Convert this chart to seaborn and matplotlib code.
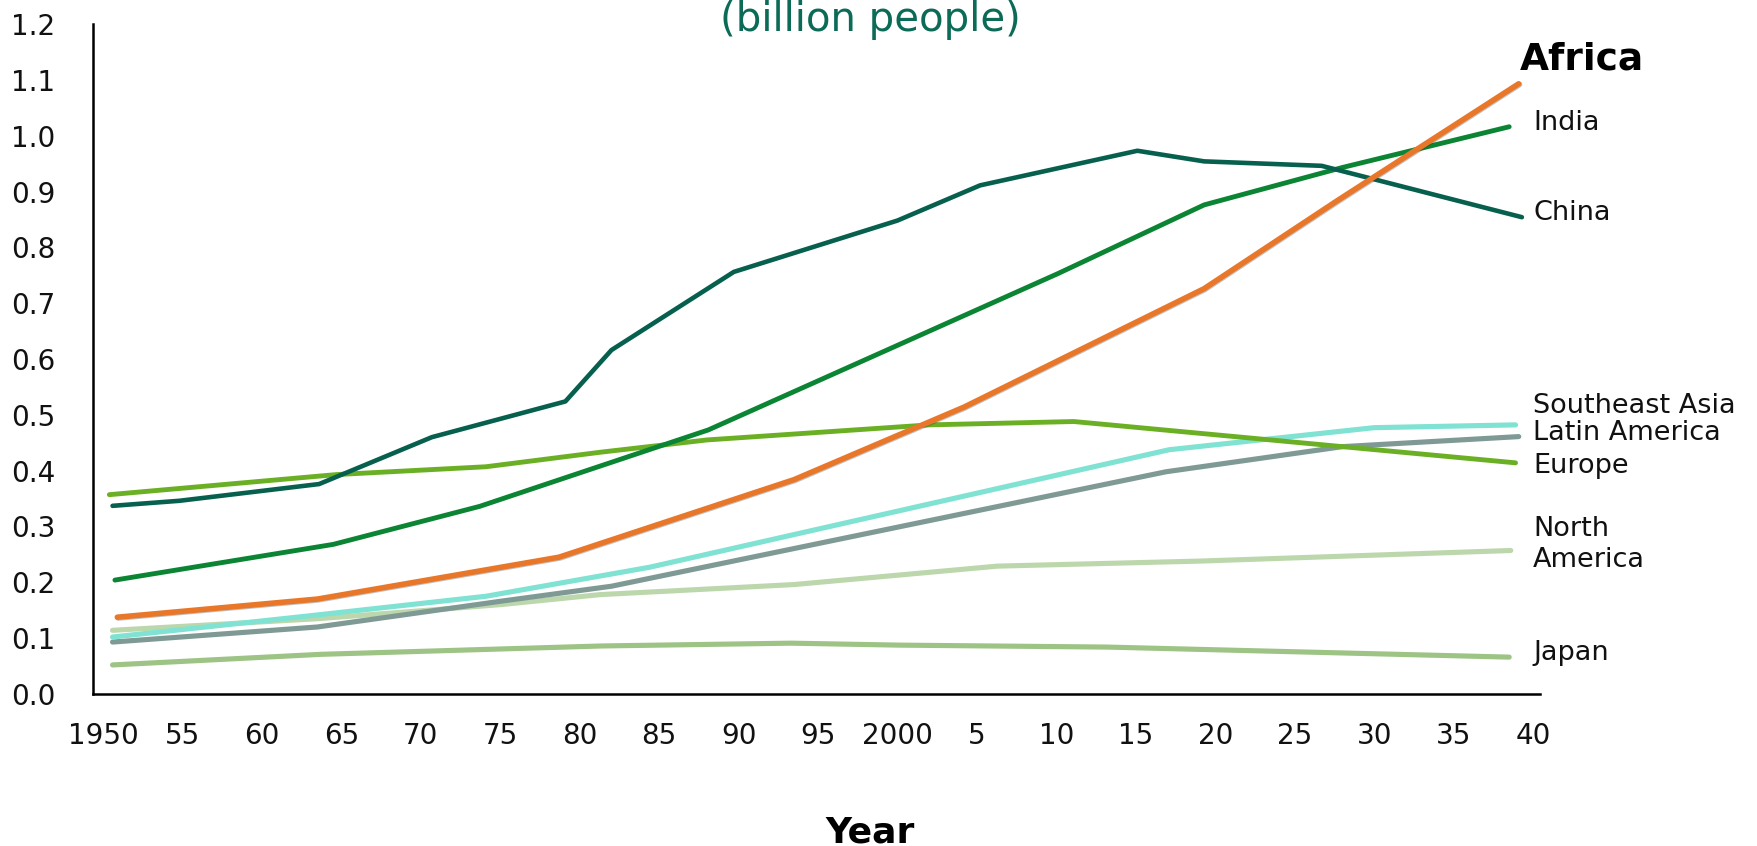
import matplotlib
matplotlib.use("Agg")
import matplotlib.pyplot as plt
import matplotlib.patheffects as pe
import seaborn as sns
import pandas as pd

sns.set_theme(style="white")
plt.rcParams['font.family'] = ['DejaVu Sans']

# Population by region (billion people)
japan_years = [1950.6, 1963.7, 1981.4, 1993.3, 2000.1, 2013.2, 2038.5]
japan_vals = [0.052, 0.071, 0.086, 0.091, 0.0875, 0.084, 0.066]

namerica_years = [1950.6, 1963.6, 1975.0, 1981.3, 1993.5, 2006.3, 2019.0, 2038.6]
namerica_vals = [0.114, 0.135, 0.160, 0.178, 0.196, 0.229, 0.238, 0.257]

latam_years = [1950.6, 1963.5, 1975.0, 1982.0, 2016.9, 2028.0, 2039.1]
latam_vals = [0.093, 0.120, 0.166, 0.193, 0.398, 0.443, 0.461]

seasia_years = [1950.6, 1963.0, 1974.1, 1984.4, 2017.1, 2030.0, 2038.9]
seasia_vals = [0.102, 0.140, 0.175, 0.227, 0.4375, 0.477, 0.482]

europe_years = [1950.4, 1964.7, 1974.1, 1981.3, 1988.0, 2002.0, 2011.1, 2038.9]
europe_vals = [0.357, 0.393, 0.407, 0.433, 0.455, 0.482, 0.488, 0.414]

india_years = [1950.75, 1964.5, 1973.7, 1988.1, 2010.1, 2019.3, 2028.0, 2038.5]
india_vals = [0.204, 0.268, 0.336, 0.473, 0.753, 0.876, 0.943, 1.016]

china_years = [1950.6, 1954.8, 1963.6, 1970.7, 1979.1, 1982.0, 1989.7, 2000.0,
               2005.2, 2015.1, 2019.3, 2026.7, 2039.3]
china_vals = [0.337, 0.346, 0.376, 0.460, 0.524, 0.616, 0.756, 0.848,
              0.911, 0.973, 0.954, 0.946, 0.854]

africa_years = [1950.9, 1963.5, 1978.7, 1993.5, 2004.2, 2019.3, 2027.7, 2039.1]
africa_vals = [0.1375, 0.170, 0.245, 0.384, 0.514, 0.726, 0.884, 1.093]

tick_years = list(range(1950, 2041, 5))
tick_labels = ["1950", "55", "60", "65", "70", "75", "80", "85", "90", "95",
               "2000", "5", "10", "15", "20", "25", "30", "35", "40"]
y_ticks = [i / 10 for i in range(13)]

series = [
    ("Japan", japan_years, japan_vals, "#9DC385", 3.7),
    ("North America", namerica_years, namerica_vals, "#BDD7AD", 3.7),
    ("Latin America", latam_years, latam_vals, "#7F9A94", 3.7),
    ("Southeast Asia", seasia_years, seasia_vals, "#80E2D2", 3.7),
    ("Europe", europe_years, europe_vals, "#6BB024", 3.5),
    ("India", india_years, india_vals, "#0B8533", 3.5),
    ("China", china_years, china_vals, "#07604E", 3.3),
    ("Africa", africa_years, africa_vals, "#E8772A", 4.0),
]

# label text, x, y, bold
end_labels = [
    ("Africa", 2039.2, 1.137, True),
    ("India", 2040.0, 1.023, False),
    ("China", 2040.0, 0.861, False),
    ("Southeast Asia", 2040.0, 0.516, False),
    ("Latin America", 2040.0, 0.467, False),
    ("Europe", 2040.0, 0.408, False),
    ("North\nAmerica", 2040.0, 0.267, False),
    ("Japan", 2040.0, 0.073, False),
]

fig = plt.figure(figsize=(17.58, 8.46), dpi=100)
ax = fig.add_axes([0.0529, 0.1797, 0.8231, 0.7919])

for name, xs, ys, color, lw in series:
    df = pd.DataFrame({"year": xs, "value": ys})
    kw = {}
    if name == "Africa":
        kw["path_effects"] = [pe.SimpleLineShadow(offset=(0.6, -0.6), shadow_color="#333333", alpha=0.3),
                              pe.Normal()]
    sns.lineplot(data=df, x="year", y="value", ax=ax, color=color, linewidth=lw,
                 estimator=None, sort=False, legend=False, **kw)

for text, x, y, bold in end_labels:
    if bold:
        ax.text(x, y, text, fontsize=27, fontweight="bold", color="black",
                ha="left", va="center", clip_on=False)
    else:
        ax.text(x, y, text, fontsize=19.5, color="#111111", ha="left",
                va="center", linespacing=1.25, clip_on=False)

ax.set_xlim(1949.37, 2040.44)
ax.set_ylim(0, 1.2)
ax.set_xticks(tick_years)
ax.set_xticklabels(tick_labels)
ax.set_yticks(y_ticks)
ax.set_yticklabels([f"{v:.1f}" for v in y_ticks])
ax.tick_params(axis="x", length=0, pad=20, labelsize=20, labelcolor="#111111")
ax.tick_params(axis="y", length=0, pad=27, labelsize=20, labelcolor="#111111")
ax.set_xlabel("")
ax.set_ylabel("")

for side in ["top", "right"]:
    ax.spines[side].set_visible(False)
for side in ["left", "bottom"]:
    ax.spines[side].set_color("black")
    ax.spines[side].set_linewidth(1.8)
ax.grid(False)

fig.text(0.4949, 1 - 31 / 846, "(billion people)", fontsize=29, color="#0B6B57",
         ha="center", va="baseline")
fig.text(0.4949, 1 - 842 / 846, "Year", fontsize=26, fontweight="bold",
         color="black", ha="center", va="baseline")

fig.savefig("out.png", dpi=100)
